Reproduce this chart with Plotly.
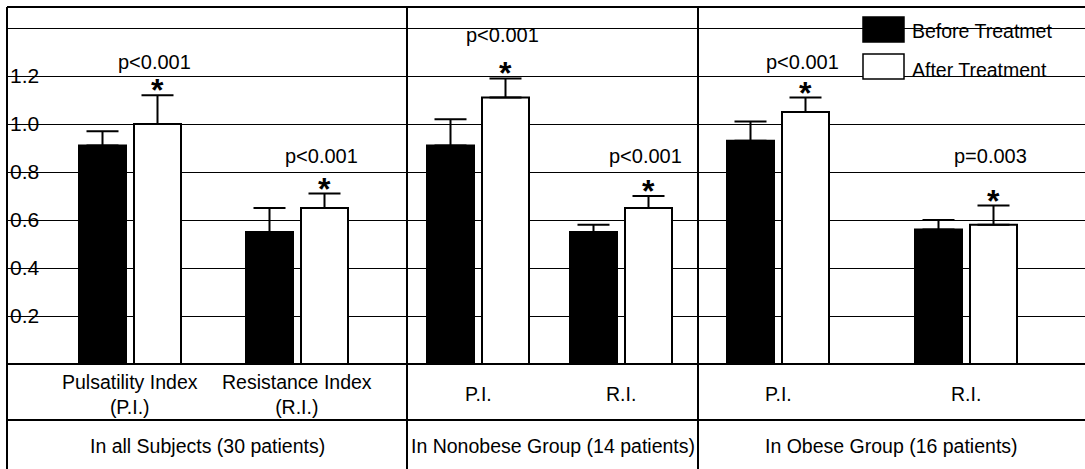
import plotly.graph_objects as go

# ---- data -------------------------------------------------------------
categories = ["Pulsatility Index<br>(P.I.)", "Resistance Index<br>(R.I.)",
              "P.I.", "R.I.", "P.I.", "R.I."]
groups = ["In all Subjects (30 patients)",
          "In Nonobese Group (14 patients)",
          "In Obese Group (16 patients)"]
before_mean = [0.91, 0.55, 0.91, 0.55, 0.93, 0.56]
before_err = [0.06, 0.10, 0.11, 0.03, 0.08, 0.04]
after_mean = [1.00, 0.65, 1.11, 0.65, 1.05, 0.58]
after_err = [0.12, 0.06, 0.08, 0.05, 0.06, 0.08]
p_labels = ["p<0.001", "p<0.001", "p<0.001", "p<0.001", "p<0.001", "p=0.003"]
p_label_y = [1.26, 0.865, 1.37, 0.865, 1.26, 0.865]
tick_vals = [0.2, 0.4, 0.6, 0.8, 1.0, 1.2, 1.4]
tick_text = ["0.2", "0.4", "0.6", "0.8", "1.0", "1.2", ""]

# ---- layout constants -------------------------------------------------
W, H = 1085, 469
ML, MR, MT, MB = 7, 0, 7, 105
X_MAX = W - ML - MR            # x axis runs 0..X_MAX
Y_MAX = 1.4875
slot_x = [123, 290, 471, 614, 771, 959]     # centre of each bar pair
group_edges = [0, 400, 691, X_MAX]          # table column boundaries
BAR_W, HALF_GAP = 47, 4
FONT = "Liberation Sans, Arial, sans-serif"
plot_h = H - MT - MB


def px_to_paper_y(py):
    return (H - MB - py) / plot_h


def px_to_paper_x(px):
    return (px - ML) / X_MAX


def x_to_paper(x):
    return x / X_MAX


fig = go.Figure()
fig.add_trace(go.Bar(
    name="Before Treatmet", x=slot_x, y=before_mean,
    offset=-(HALF_GAP + BAR_W), width=BAR_W,
    marker=dict(color="black", line=dict(color="black", width=2)),
    error_y=dict(type="data", array=before_err, arrayminus=[0] * 6,
                 symmetric=False, color="black", thickness=2, width=16),
    showlegend=False,
))
fig.add_trace(go.Bar(
    name="After Treatment", x=slot_x, y=after_mean,
    offset=HALF_GAP, width=BAR_W,
    marker=dict(color="white", line=dict(color="black", width=2)),
    error_y=dict(type="data", array=after_err, arrayminus=[0] * 6,
                 symmetric=False, color="black", thickness=2, width=16),
    showlegend=False,
))

annotations = []
after_x = [x + HALF_GAP + BAR_W / 2 for x in slot_x]
for xa, m, e, pl, py in zip(after_x, after_mean, after_err, p_labels, p_label_y):
    annotations.append(dict(x=xa, y=m + e, xref="x", yref="y", text="<b>*</b>",
                            showarrow=False, yanchor="middle", yshift=5,
                            font=dict(size=32, family=FONT, color="black")))
    annotations.append(dict(x=xa - 3, y=py, xref="x", yref="y", text=pl,
                            showarrow=False, yanchor="middle",
                            font=dict(size=20, family=FONT, color="black")))

# category row and group row of the table under the axis
for x, c in zip(slot_x, categories):
    annotations.append(dict(x=x, y=px_to_paper_y(394), xref="x", yref="paper",
                            text=c, showarrow=False, yanchor="middle",
                            font=dict(size=19.5, family=FONT, color="black")))
for i, g in enumerate(groups):
    xc = (group_edges[i] + group_edges[i + 1]) / 2
    annotations.append(dict(x=xc, y=px_to_paper_y(446), xref="x", yref="paper",
                            text=g, showarrow=False, yanchor="middle",
                            font=dict(size=19.5, family=FONT, color="black")))

# hand-drawn legend with large swatches
leg_x0, leg_x1 = px_to_paper_x(863), px_to_paper_x(904)
shapes = [
    dict(type="rect", xref="paper", yref="paper", x0=leg_x0, x1=leg_x1,
         y0=px_to_paper_y(42), y1=px_to_paper_y(17),
         fillcolor="black", line=dict(color="black", width=1.5)),
    dict(type="rect", xref="paper", yref="paper", x0=leg_x0, x1=leg_x1,
         y0=px_to_paper_y(79), y1=px_to_paper_y(54),
         fillcolor="white", line=dict(color="black", width=1.5)),
]
for txt, py in [("Before Treatmet", 31), ("After Treatment", 70)]:
    annotations.append(dict(x=px_to_paper_x(910), y=px_to_paper_y(py),
                            xref="paper", yref="paper", text=txt,
                            showarrow=False, xanchor="left", yanchor="middle",
                            font=dict(size=19.5, family=FONT, color="black")))

# frame: top edge, axis baseline, table row line, vertical column lines
bottom = px_to_paper_y(H)
line = dict(color="black", width=2)
shapes += [
    dict(type="line", xref="paper", yref="paper", x0=0, x1=1, y0=1, y1=1, line=line),
    dict(type="line", xref="paper", yref="paper", x0=0, x1=1, y0=0, y1=0, line=line),
    dict(type="line", xref="paper", yref="paper", x0=0, x1=1,
         y0=px_to_paper_y(420), y1=px_to_paper_y(420), line=line),
    dict(type="line", xref="paper", yref="paper", x0=0, x1=0, y0=bottom, y1=1, line=line),
]
for e in group_edges[1:-1]:
    shapes.append(dict(type="line", xref="paper", yref="paper",
                       x0=x_to_paper(e), x1=x_to_paper(e), y0=bottom, y1=1, line=line))

fig.update_layout(
    width=W, height=H,
    margin=dict(l=ML, r=MR, t=MT, b=MB, pad=0),
    paper_bgcolor="white", plot_bgcolor="white",
    barmode="overlay",
    font=dict(family=FONT, color="black"),
    xaxis=dict(range=[0, X_MAX], showticklabels=False, showgrid=False,
               zeroline=False, showline=False, ticks=""),
    yaxis=dict(range=[0, Y_MAX], tickvals=tick_vals, ticktext=tick_text,
               showgrid=True, gridcolor="black", gridwidth=1.3,
               zeroline=False, showline=False, ticks="",
               ticklabelposition="inside",
               tickfont=dict(size=21, family=FONT, color="black")),
    annotations=annotations,
    shapes=shapes,
)

fig.write_html("out.html")
